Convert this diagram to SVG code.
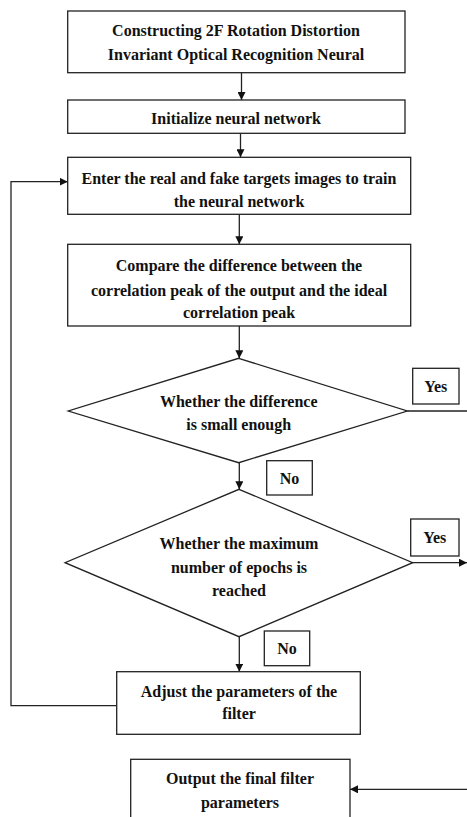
<svg xmlns="http://www.w3.org/2000/svg" width="467" height="817" viewBox="0 0 467 817">
<style>
.n{fill:#fff;stroke:#222;stroke-width:1.3}
.t{font-family:"Liberation Serif","Times New Roman",serif;font-weight:bold;font-size:16px;fill:#111;text-anchor:middle}
.c{fill:none;stroke:#222;stroke-width:1.3}
</style>
<defs>
<marker id="ah" viewBox="0 0 10 10" refX="10" refY="5" markerWidth="8" markerHeight="8" markerUnits="userSpaceOnUse" orient="auto">
<path d="M0,0L10,5L0,10z" fill="#111"/>
</marker>
</defs>
<rect width="467" height="817" fill="#fff"/>
<g id="connectors">
<path class="c" d="M241.5,72.7V100" marker-end="url(#ah)"/>
<path class="c" d="M240.5,133.3V157.3" marker-end="url(#ah)"/>
<path class="c" d="M239.3,214.3V244.3" marker-end="url(#ah)"/>
<path class="c" d="M239.3,326V358.3" marker-end="url(#ah)"/>
<path class="c" d="M239.3,462.7V489.3" marker-end="url(#ah)"/>
<path class="c" d="M239.3,636.7V671.7" marker-end="url(#ah)"/>
<path class="c" d="M116.7,705.7H11V181.7H67.7" marker-end="url(#ah)"/>
<path class="c" d="M407.3,411H467"/>
<path class="c" d="M412.7,562.7H467" marker-end="url(#ah)"/>
<path class="c" d="M467,789.3H350" marker-end="url(#ah)"/>
</g>
<g id="n1"><rect class="n" x="67.7" y="11" width="337.3" height="61.7"/>
<text class="t" x="236" y="36">Constructing 2F Rotation Distortion</text>
<text class="t" x="236" y="60">Invariant Optical Recognition Neural</text></g>
<g id="n2"><rect class="n" x="67.7" y="100" width="337.3" height="33.3"/>
<text class="t" x="236" y="123.5">Initialize neural network</text></g>
<g id="n3"><rect class="n" x="67.7" y="157.3" width="343" height="57"/>
<text class="t" x="239" y="184">Enter the real and fake targets images to train</text>
<text class="t" x="239" y="206.5">the neural network</text></g>
<g id="n4"><rect class="n" x="67.7" y="244.3" width="343" height="81.7"/>
<text class="t" x="239" y="270.5">Compare the difference between the</text>
<text class="t" x="239" y="295.5">correlation peak of the output and the ideal</text>
<text class="t" x="239" y="318">correlation peak</text></g>
<g id="d1"><polygon class="n" points="238.7,358.3 407.3,411 238.7,462.7 68.3,411"/>
<text class="t" x="238.7" y="407">Whether the difference</text>
<text class="t" x="238.7" y="429.5">is small enough</text></g>
<g id="yes1"><rect class="n" x="412.7" y="368.3" width="46.3" height="35.7"/>
<text class="t" x="435.8" y="391.5">Yes</text></g>
<g id="no1"><rect class="n" x="266.7" y="460.7" width="45.6" height="34.3"/>
<text class="t" x="289.5" y="483.5">No</text></g>
<g id="d2"><polygon class="n" points="239,489.3 412.7,562.7 239,636.7 65,562.7"/>
<text class="t" x="239" y="548.5">Whether the maximum</text>
<text class="t" x="239" y="573">number of epochs is</text>
<text class="t" x="239" y="595.5">reached</text></g>
<g id="yes2"><rect class="n" x="410.7" y="519" width="48.3" height="37"/>
<text class="t" x="434.8" y="543">Yes</text></g>
<g id="no2"><rect class="n" x="264.3" y="631" width="45.4" height="34.7"/>
<text class="t" x="287" y="654">No</text></g>
<g id="n5"><rect class="n" x="116.7" y="671.7" width="243.6" height="62.6"/>
<text class="t" x="239" y="696.5">Adjust the parameters of the</text>
<text class="t" x="239" y="719">filter</text></g>
<g id="n6"><rect class="n" x="130.7" y="759.3" width="219.3" height="70"/>
<text class="t" x="240" y="784">Output the final filter</text>
<text class="t" x="240" y="807.5">parameters</text></g>
</svg>
